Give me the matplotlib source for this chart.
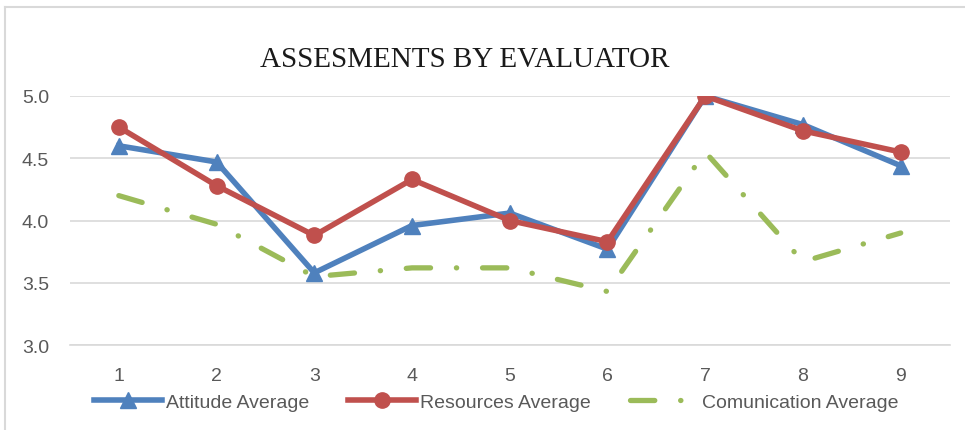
import numpy as np
import matplotlib.pyplot as plt
from matplotlib.lines import Line2D

# данные
evaluators = [1, 2, 3, 4, 5, 6, 7, 8, 9]
attitude = [4.60, 4.47, 3.58, 3.96, 4.06, 3.77, 5.00, 4.77, 4.44]
resources = [4.75, 4.28, 3.88, 4.33, 4.00, 3.83, 5.00, 4.72, 4.55]
communication = [4.20, 3.97, 3.55, 3.62, 3.62, 3.43, 4.55, 3.67, 3.90]
yticks = [3.0, 3.5, 4.0, 4.5, 5.0]

tick_font = 'Liberation Sans'

fig = plt.figure(figsize=(9.65, 4.31), dpi=100)
ax = fig.add_axes([0.0725, 0.197, 0.9115, 0.578])

ax.plot(evaluators, attitude, color='#4F81BD', lw=4, marker='^', ms=11,
        label='Attitude Average', zorder=3)
ax.plot(evaluators, resources, color='#C0504D', lw=4, marker='o', ms=11,
        label='Resources Average', zorder=4)
ax.plot(evaluators, communication, color='#9BBB59', lw=3.8,
        linestyle=(0, (4.6, 4.9, 0.05, 4.9)), dash_capstyle='round',
        label='Comunication Average', zorder=2)

ax.set_xlim(0.5, 9.5)
ax.set_ylim(3.0, 5.0)
ax.set_xticks(evaluators)
ax.set_yticks(yticks)
ax.set_yticklabels(['%.1f' % v for v in yticks])
ax.grid(axis='y', color='#D9D9D9', lw=1.2)
ax.set_axisbelow(True)
for s in ['top', 'right', 'left']:
    ax.spines[s].set_visible(False)
ax.spines['bottom'].set_color('#D9D9D9')
ax.spines['bottom'].set_linewidth(1.2)
ax.tick_params(length=0, labelcolor='#595959', labelsize=14)
ax.tick_params(axis='y', pad=15)
ax.tick_params(axis='x', pad=16)
for lab in ax.get_xticklabels() + ax.get_yticklabels():
    lab.set_family(tick_font)

fig.text(0.482, 0.861, 'ASSESMENTS BY EVALUATOR', ha='center', va='center',
         fontsize=21, family='Liberation Serif', color='#1a1a1a')

leg = fig.legend(loc='center', bbox_to_anchor=(0.514, 0.065), ncol=3,
                 frameon=False, handlelength=3.5, handletextpad=0.2,
                 columnspacing=2.0, prop={'family': tick_font, 'size': 14})
for t in leg.get_texts():
    t.set_color('#595959')

# рамка диаграммы
fig.add_artist(Line2D([5 / 965, 1], [1 - 8 / 431, 1 - 8 / 431],
                      transform=fig.transFigure, color='#D9D9D9', lw=1.5))
fig.add_artist(Line2D([5 / 965, 5 / 965], [0, 1 - 8 / 431],
                      transform=fig.transFigure, color='#D9D9D9', lw=1.5))

fig.savefig('out.png', dpi=100)
